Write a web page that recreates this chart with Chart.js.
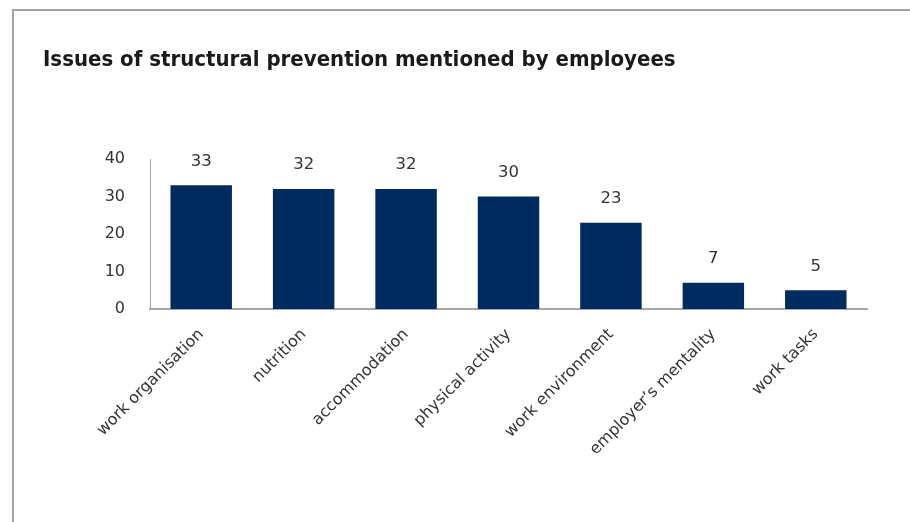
<!DOCTYPE html>
<html>
<head>
<meta charset="utf-8">
<script src="https://cdn.jsdelivr.net/npm/chart.js@4.4.1/dist/chart.umd.min.js"></script>
<style>
  html, body { margin: 0; padding: 0; background: #fff; }
  body { width: 910px; height: 522px; position: relative; overflow: hidden; }
  .frame {
    position: absolute; left: 12px; top: 9px; width: 1000px; height: 600px;
    border-top: 2px solid #a3a3a3; border-left: 2px solid #a3a3a3;
  }
  #wrap { position: absolute; left: 0; top: 0; width: 910px; height: 522px; }
</style>
</head>
<body>
<div class="frame"></div>
<div id="wrap"><canvas id="chart" width="910" height="522"></canvas></div>
<script>
const categories = [
  "work organisation", "nutrition", "accommodation", "physical activity",
  "work environment", "employer\u2019s mentality", "work tasks"
];
const mentions = [33, 32, 32, 30, 23, 7, 5];
const yTicks = [0, 10, 20, 30, 40];
const chartTitle = "Issues of structural prevention mentioned by employees";

const textColor = "#333333";
const barColor = "#002b61";
const axisColor = "#a6a6a6";

// Writes each bar's value above it
const valueLabels = {
  id: "valueLabels",
  afterDatasetsDraw(chart) {
    const ctx = chart.ctx;
    const meta = chart.getDatasetMeta(0);
    ctx.save();
    ctx.font = "16.5px 'DejaVu Sans', Verdana, sans-serif";
    ctx.fillStyle = textColor;
    ctx.textAlign = "center";
    ctx.textBaseline = "middle";
    meta.data.forEach((bar, i) => {
      ctx.fillText(String(mentions[i]), bar.x, bar.y - 24);
    });
    ctx.restore();
  }
};

new Chart(document.getElementById("chart"), {
  type: "bar",
  data: {
    labels: categories,
    datasets: [{
      data: mentions,
      backgroundColor: barColor,
      borderWidth: 0,
      categoryPercentage: 1.0,
      barPercentage: 0.6
    }]
  },
  options: {
    responsive: false,
    animation: false,
    devicePixelRatio: 1,
    layout: { padding: { left: 43, right: 43, top: 0, bottom: 0 } },
    plugins: {
      legend: { display: false },
      tooltip: { enabled: false },
      title: {
        display: true,
        text: chartTitle,
        align: "start",
        color: "#1a1a1a",
        font: { family: "'Liberation Sans Narrow', 'DejaVu Sans Condensed', 'Arial Narrow', sans-serif", size: 22, weight: "bold", lineHeight: 1.2 },
        padding: { top: 47, bottom: 85.6 }
      }
    },
    scales: {
      x: {
        grid: { display: false, drawTicks: false },
        border: { display: true, color: axisColor, width: 2 },
        ticks: {
          color: textColor,
          font: { family: "'DejaVu Sans', Verdana, sans-serif", size: 16 },
          minRotation: 45,
          maxRotation: 45,
          padding: 16,
          autoSkip: false
        },
        afterFit(scale) { scale.height = 213; }
      },
      y: {
        min: 0,
        max: 40,
        afterBuildTicks(scale) { scale.ticks = yTicks.map(v => ({ value: v })); },
        grid: { display: false, drawTicks: false },
        border: { display: true, color: axisColor, width: 1 },
        ticks: {
          color: textColor,
          font: { family: "'DejaVu Sans', Verdana, sans-serif", size: 16 },
          padding: 25
        },
        afterFit(scale) { scale.width = 107; }
      }
    }
  },
  plugins: [valueLabels]
});
</script>
</body>
</html>
